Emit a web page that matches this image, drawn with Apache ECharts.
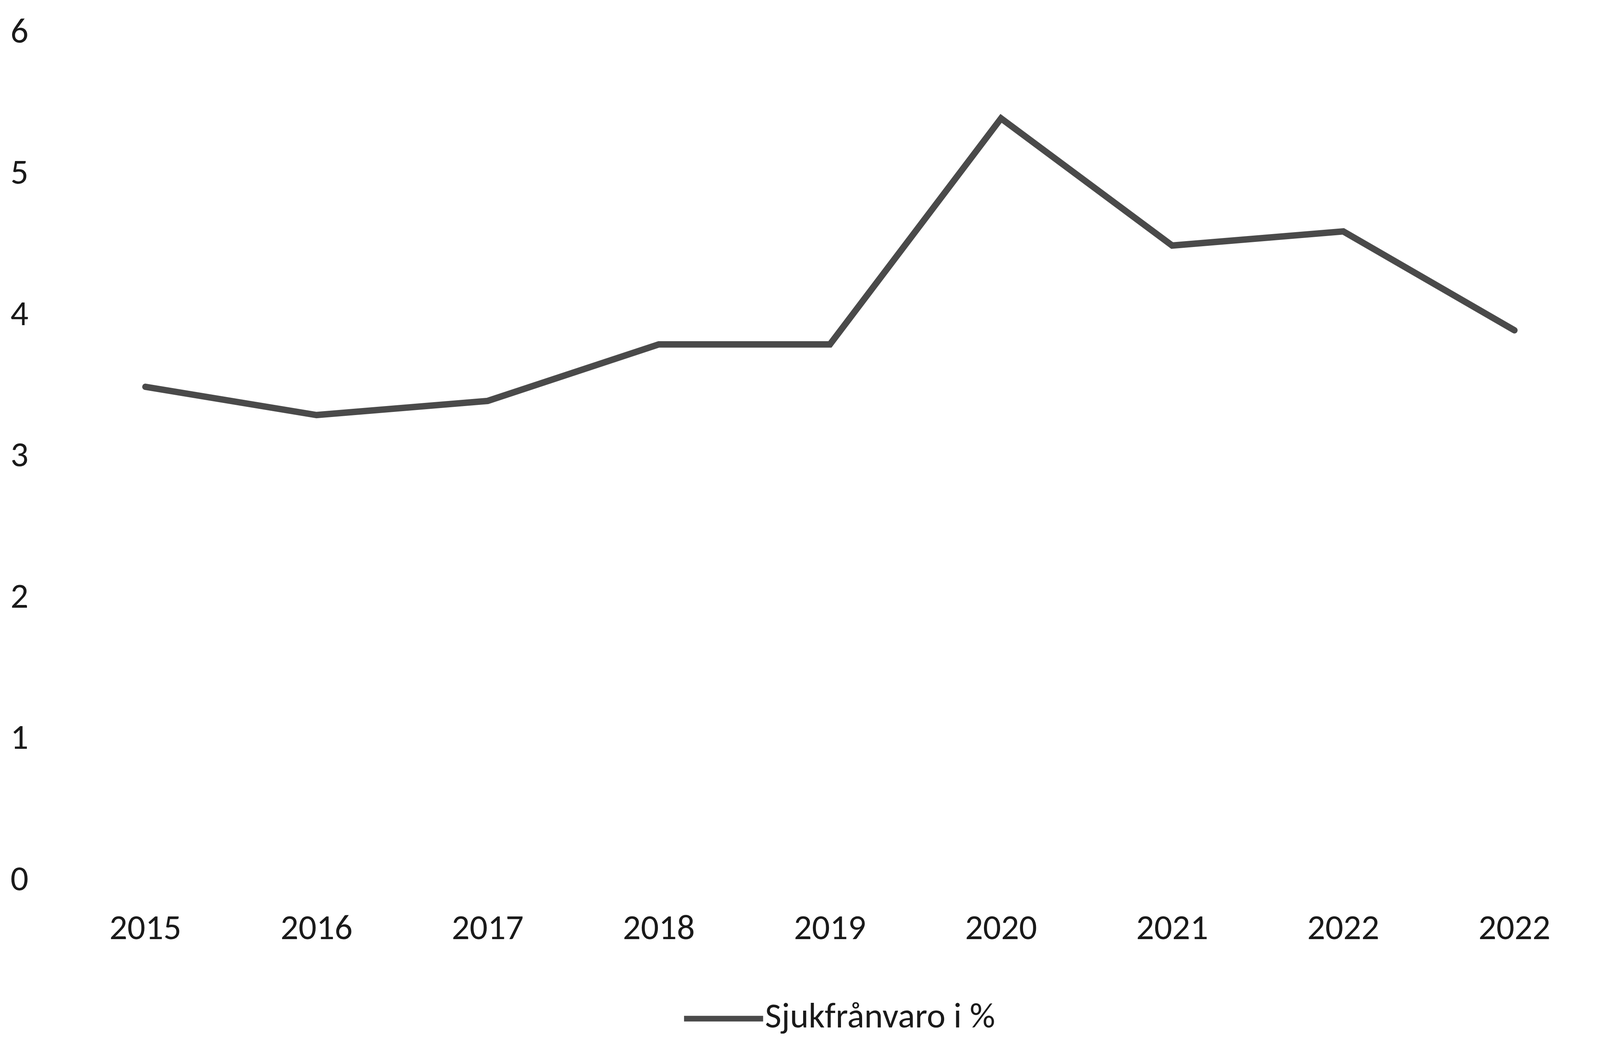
<!DOCTYPE html>
<html>
<head>
<meta charset="utf-8">
<script src="https://cdn.jsdelivr.net/npm/echarts@6/dist/echarts.min.js"></script>
<style>html,body{margin:0;padding:0;background:#fff;overflow:hidden;}#c{width:100vw;height:100vh;}</style>
</head>
<body>
<div id="c"></div>
<script>
const categories = ['2015','2016','2017','2018','2019','2020','2021','2022','2022'];
const sjukfranvaro = [3.5, 3.3, 3.4, 3.8, 3.8, 5.4, 4.5, 4.6, 3.9];
const seriesName = 'Sjukfrånvaro i %';
const yTicks = {min: 0, max: 6, interval: 1};

const W = window.innerWidth, H = window.innerHeight;
const kx = W / 4492, ky = H / 2656, k = Math.min(kx, ky);
const font = 'Carlito, Lato, "Open Sans", sans-serif';
const fs = Math.round(100 * k);
const chart = echarts.init(document.getElementById('c'), null, {renderer: 'canvas'});
chart.setOption({
  backgroundColor: '#ffffff',
  animation: false,
  grid: {left: 168 * kx, top: 86 * ky, width: 4455 * kx, height: 2169 * ky, containLabel: false},
  legend: {
    data: [seriesName],
    left: 1915 * kx, top: 2556 * ky,
    icon: 'rect', itemWidth: 222 * kx, itemHeight: 16 * k, itemGap: 10 * kx,
    textStyle: {fontFamily: font, fontSize: fs, color: '#1a1a1a', padding: [0,0,0,0]}
  },
  xAxis: {
    type: 'category', data: categories, boundaryGap: true,
    axisLine: {show: false}, axisTick: {show: false}, splitLine: {show: false},
    axisLabel: {fontFamily: font, fontSize: fs, color: '#1a1a1a', margin: 80 * ky, interval: 0}
  },
  yAxis: {
    type: 'value', min: yTicks.min, max: yTicks.max, interval: yTicks.interval,
    axisLine: {show: false}, axisTick: {show: false}, splitLine: {show: false},
    axisLabel: {fontFamily: font, fontSize: fs, color: '#1a1a1a', margin: 88 * kx, align: 'right'}
  },
  series: [{
    name: seriesName, type: 'line', data: sjukfranvaro,
    symbol: 'none',
    lineStyle: {color: '#4a4a4a', width: 18 * k, cap: 'round', join: 'miter'},
    itemStyle: {color: '#4a4a4a'}
  }]
});
</script>
</body>
</html>
